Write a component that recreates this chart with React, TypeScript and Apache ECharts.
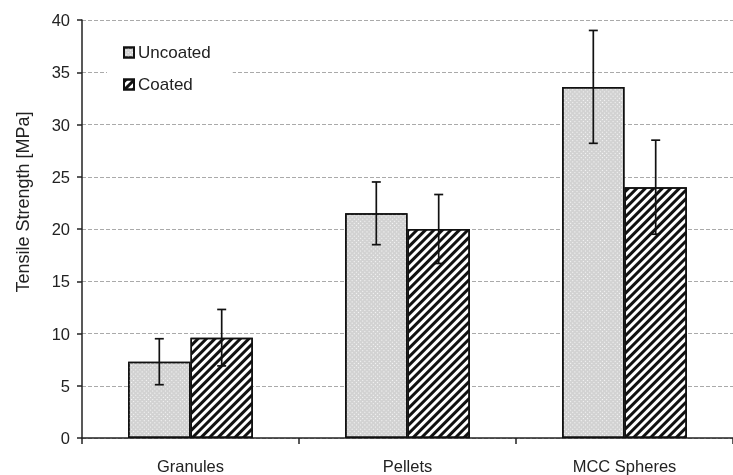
import React, { useEffect, useRef } from "react";
import * as echarts from "echarts";

const categories = ["Granules", "Pellets", "MCC Spheres"];
const uncoated = [7.3, 21.5, 33.6];
const uncoatedErr = [2.2, 3.0, 5.4];
const coated = [9.6, 20.0, 24.0];
const coatedErr = [2.7, 3.3, 4.5];
const yTitle = "Tensile Strength [MPa]";

const CAT_GAP = 0.425;

export default function App() {
  const ref = useRef<HTMLDivElement>(null);
  useEffect(() => {
    if (!ref.current) return;
    const chart = echarts.init(ref.current, null, { renderer: "svg" });
    const font = "Liberation Sans, Arial, sans-serif";

    const errSeries = (vals: number[], errs: number[], side: number, name: string) => ({
      type: "custom",
      name: name + "-err",
      data: vals.map((v, i) => [i, v, errs[i]]),
      z: 10,
      silent: true,
      renderItem: (params: any, api: any) => {
        const idx = api.value(0);
        const v = api.value(1);
        const e = api.value(2);
        const catW = api.size([1, 0])[0];
        const bw = (catW * (1 - CAT_GAP)) / 2;
        const c = api.coord([idx, v]);
        const x = c[0] + (side * bw) / 2;
        const top = api.coord([idx, v + e])[1];
        const bot = api.coord([idx, v - e])[1];
        const cap = 4.5;
        const st = { stroke: "#111", lineWidth: 1.7 };
        return {
          type: "group",
          children: [
            { type: "line", shape: { x1: x, y1: top, x2: x, y2: bot }, style: st },
            { type: "line", shape: { x1: x - cap, y1: top, x2: x + cap, y2: top }, style: st },
            { type: "line", shape: { x1: x - cap, y1: bot, x2: x + cap, y2: bot }, style: st },
          ],
        };
      },
    });

    chart.setOption({
      animation: false,
      aria: { enabled: true, decal: { show: true } },
      grid: { left: 82, right: -11, top: 20, bottom: 37 },
      graphic: [
        {
          type: "text",
          x: 23,
          y: 202,
          rotation: Math.PI / 2,
          style: {
            text: yTitle,
            fontFamily: font,
            fontSize: 18,
            fill: "#222",
            align: "center",
            verticalAlign: "middle",
          },
        },
      ],
      legend: {
        orient: "vertical",
        left: 107,
        top: 36,
        itemWidth: 10,
        itemHeight: 10,
        itemGap: 15,
        padding: [8, 22, 8, 16],
        backgroundColor: "#fff",
        data: ["Uncoated", "Coated"],
        textStyle: { fontFamily: font, fontSize: 17, color: "#222", padding: [0, 0, 0, -1] },
        icon: "rect",
      },
      xAxis: {
        type: "category",
        data: categories,
        axisLine: { lineStyle: { color: "#222", width: 1.5 } },
        axisTick: { show: true, length: 6, lineStyle: { color: "#222", width: 1.5 } },
        axisLabel: { fontFamily: font, fontSize: 16.5, color: "#222", margin: 19 },
      },
      yAxis: {
        type: "value",
        min: 0,
        max: 40,
        interval: 5,
        axisLine: { show: true, lineStyle: { color: "#222", width: 1.5 } },
        axisTick: { show: true, length: 5, lineStyle: { color: "#222", width: 1.5 } },
        axisLabel: { fontFamily: font, fontSize: 16.5, color: "#222", margin: 12 },
        splitLine: { show: true, lineStyle: { color: "#aaa", type: [4, 2], width: 1 } },
      },
      series: [
        {
          type: "bar",
          name: "Uncoated",
          data: uncoated,
          barGap: "0%",
          barCategoryGap: CAT_GAP * 100 + "%",
          itemStyle: {
            color: "#d2d2d2",
            borderColor: "#111",
            borderWidth: 1.5,
            decal: {
              symbol: "rect",
              symbolSize: 1,
              dashArrayX: [1, 2],
              dashArrayY: [1, 2],
              rotation: Math.PI / 4,
              color: "rgba(255,255,255,0.85)",
            },
          },
        },
        {
          type: "bar",
          name: "Coated",
          data: coated,
          itemStyle: {
            color: "#ffffff",
            borderColor: "#111",
            borderWidth: 1.5,
            decal: {
              symbol: "rect",
              symbolSize: 1,
              dashArrayX: [1, 0],
              dashArrayY: [2.5, 2.5],
              rotation: -Math.PI / 4,
              color: "#111",
            },
          },
        },
        errSeries(uncoated, uncoatedErr, -1, "Uncoated"),
        errSeries(coated, coatedErr, 1, "Coated"),
      ],
    });
    return () => chart.dispose();
  }, []);
  return (
    <div
      ref={ref}
      style={{ position: "fixed", left: 0, top: 0, width: 733, height: 475, overflow: "hidden" }}
    />
  );
}
